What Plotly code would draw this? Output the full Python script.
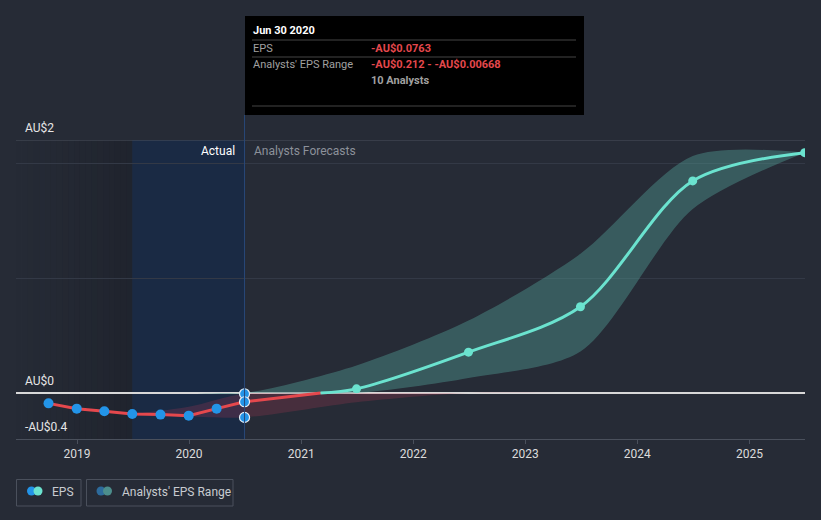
import plotly.graph_objects as go
import pandas as pd

# ---------------- data ----------------
eps_dates = ["2018-09-30", "2018-12-31", "2019-03-31", "2019-06-30",
             "2019-09-30", "2019-12-31", "2020-03-31", "2020-06-30"]
eps_values = [-0.090, -0.136, -0.159, -0.183, -0.188, -0.197, -0.136, -0.0763]

fc_dates = ["2020-06-30", "2021-06-30", "2022-06-30", "2023-06-30",
            "2024-06-30", "2025-06-30"]
fc_values = [-0.0763, 0.036, 0.355, 0.75, 1.844, 2.09]

range_dates = ["2019-06-30", "2019-12-31", "2020-06-30", "2021-06-30",
               "2022-06-30", "2023-06-30", "2024-06-30", "2025-06-30"]
range_low = [-0.183, -0.205, -0.212, -0.08, 0.13, 0.36, 1.6, 2.09]
range_high = [-0.183, -0.12, -0.00668, 0.24, 0.63, 1.21, 2.06, 2.09]

year_ticks = ["2019-01-01", "2020-01-01", "2021-01-01", "2022-01-01",
              "2023-01-01", "2024-01-01", "2025-01-01"]
year_labels = ["2019", "2020", "2021", "2022", "2023", "2024", "2025"]

y_labels = ["AU$2", "AU$0", "-AU$0.4"]
y_label_vals = [2.2, 0, -0.4]

tooltip_date = "Jun 30 2020"
tooltip_eps = "-AU$0.0763"
tooltip_range = "-AU$0.212 - -AU$0.00668"
tooltip_analysts = "10 Analysts"

# ---------------- styling ----------------
BG = "#262b36"
RED = "#e5484d"
BLUE = "#2394e8"
TEAL = "#6be3cf"
FONT = "Roboto"

W, H = 821, 520
L, R, T, B = 16, 16, 140, 81
PW = W - L - R
PH = H - T - B


def px(xp):
    return (xp - L) / PW


def py(yp):
    return (H - B - yp) / PH


fig = go.Figure()

# range band split by sign (red below zero, teal above)
red_low = [min(v, 0) for v in range_low]
red_high = [min(v, 0) for v in range_high]
teal_low = [max(v, 0) for v in range_low]
teal_high = [max(v, 0) for v in range_high]

fig.add_trace(go.Scatter(x=range_dates, y=red_low, mode="lines",
                         line=dict(width=0, shape="spline", smoothing=0.8),
                         showlegend=False, hoverinfo="skip"))
fig.add_trace(go.Scatter(x=range_dates, y=red_high, mode="lines",
                         line=dict(width=0, shape="spline", smoothing=0.8),
                         fill="tonexty", fillcolor="rgba(190,60,85,0.22)",
                         showlegend=False, hoverinfo="skip"))
fig.add_trace(go.Scatter(x=range_dates, y=teal_low, mode="lines",
                         line=dict(width=0, shape="spline", smoothing=0.8),
                         showlegend=False, hoverinfo="skip"))
fig.add_trace(go.Scatter(x=range_dates, y=teal_high, mode="lines",
                         line=dict(width=0, shape="spline", smoothing=0.8),
                         fill="tonexty", fillcolor="rgba(80,150,145,0.45)",
                         showlegend=False, hoverinfo="skip"))

# forecast line split at the zero crossing
d0 = pd.Timestamp(fc_dates[0])
d1 = pd.Timestamp(fc_dates[1])
t = -fc_values[0] / (fc_values[1] - fc_values[0])
cross = d0 + (d1 - d0) * t

fig.add_trace(go.Scatter(x=[fc_dates[0], cross], y=[fc_values[0], 0],
                         mode="lines", line=dict(color=RED, width=3),
                         showlegend=False, hoverinfo="skip"))
fig.add_trace(go.Scatter(x=[cross] + fc_dates[1:], y=[0] + fc_values[1:],
                         mode="lines",
                         line=dict(color=TEAL, width=3, shape="spline", smoothing=0.9),
                         showlegend=False, hoverinfo="skip"))
fig.add_trace(go.Scatter(x=fc_dates[1:], y=fc_values[1:], mode="markers",
                         marker=dict(color=TEAL, size=9),
                         cliponaxis=True, showlegend=False, hoverinfo="skip"))

# actual EPS
fig.add_trace(go.Scatter(x=eps_dates, y=eps_values, mode="lines",
                         line=dict(color=RED, width=3),
                         showlegend=False, hoverinfo="skip"))
fig.add_trace(go.Scatter(x=eps_dates[:-1], y=eps_values[:-1], mode="markers",
                         marker=dict(color=BLUE, size=10),
                         showlegend=False, hoverinfo="skip"))
i_last = range_dates.index(eps_dates[-1])
fig.add_trace(go.Scatter(x=[eps_dates[-1]] * 3,
                         y=[range_high[i_last], eps_values[-1], range_low[i_last]],
                         mode="markers",
                         marker=dict(color=BLUE, size=10,
                                     line=dict(color="#e8eef5", width=1.2)),
                         cliponaxis=False, showlegend=False, hoverinfo="skip"))

shapes = []
# dark gradient before the last twelve months
ltm_start = pd.Timestamp(eps_dates[3])
x_left = pd.Timestamp("2018-06-16")
steps = 20
for i in range(steps):
    a = x_left + (ltm_start - x_left) * (i / steps)
    b = x_left + (ltm_start - x_left) * ((i + 1) / steps)
    shapes.append(dict(type="rect", xref="x", yref="paper", x0=a, x1=b, y0=0, y1=1,
                       fillcolor="rgba(10,12,18,%.3f)" % (0.22 * ((i + 1) / steps) ** 1.3),
                       line=dict(width=0), layer="below"))
# last twelve months (blue)
shapes.append(dict(type="rect", xref="x", yref="paper", x0=eps_dates[3], x1=eps_dates[-1],
                   y0=0, y1=1, fillcolor="#1a2a44", line=dict(width=0), layer="below"))
# top border line
shapes.append(dict(type="line", xref="paper", yref="y", x0=0, x1=1, y0=2.2, y1=2.2,
                   line=dict(color="#4a505c", width=1), layer="below"))
# vertical hover line
shapes.append(dict(type="line", xref="x", yref="paper", x0=eps_dates[-1], x1=eps_dates[-1],
                   y0=0, y1=py(115), line=dict(color="#284878", width=1)))
# tooltip box
shapes.append(dict(type="rect", xref="paper", yref="paper", x0=px(245), x1=px(584),
                   y0=py(115), y1=py(16), fillcolor="#000000", line=dict(width=0)))
for yl in (40, 57, 106):
    shapes.append(dict(type="line", xref="paper", yref="paper", x0=px(252), x1=px(576),
                       y0=py(yl), y1=py(yl), line=dict(color="#444444", width=1)))
# legend boxes
shapes.append(dict(type="rect", xref="paper", yref="paper", x0=px(16.5), x1=px(81),
                   y0=py(506), y1=py(479.5), line=dict(color="#4a505c", width=1),
                   fillcolor="rgba(0,0,0,0)"))
shapes.append(dict(type="rect", xref="paper", yref="paper", x0=px(86.5), x1=px(233),
                   y0=py(506), y1=py(479.5), line=dict(color="#4a505c", width=1),
                   fillcolor="rgba(0,0,0,0)"))


def circ(cx, cy, r, color):
    return dict(type="circle", xref="paper", yref="paper",
                x0=px(cx - r), x1=px(cx + r), y0=py(cy + r), y1=py(cy - r),
                fillcolor=color, line=dict(width=0))


shapes.append(circ(31.5, 491, 4.5, "#2394e8"))
shapes.append(circ(38, 491, 4.5, TEAL))
shapes.append(circ(101, 491, 4.5, "#2d6b9c"))
shapes.append(circ(107.5, 491, 4.5, "#4c8e8c"))

annotations = []
for lab, v in zip(y_labels, y_label_vals):
    annotations.append(dict(text=lab, xref="paper", yref="y", x=px(22.5), y=v,
                            xanchor="left", yanchor="bottom", yshift=3, showarrow=False,
                            font=dict(family=FONT, size=12, color="#e6e6e6")))
annotations.append(dict(text="Actual", xref="paper", yref="paper", x=px(237), y=py(151),
                        xanchor="right", yanchor="middle", showarrow=False,
                        font=dict(family=FONT, size=12, color="#ffffff")))
annotations.append(dict(text="Analysts Forecasts", xref="paper", yref="paper", x=px(251.5),
                        y=py(151), xanchor="left", yanchor="middle", showarrow=False,
                        font=dict(family=FONT, size=12, color="#8c919a")))
# tooltip text
annotations.append(dict(text="<b>" + tooltip_date + "</b>", xref="paper", yref="paper",
                        x=px(251), y=py(30), xanchor="left", yanchor="middle",
                        showarrow=False, font=dict(family=FONT, size=11, color="#ffffff")))
annotations.append(dict(text="EPS", xref="paper", yref="paper", x=px(251), y=py(48),
                        xanchor="left", yanchor="middle", showarrow=False,
                        font=dict(family=FONT, size=11, color="#a0a0a0")))
annotations.append(dict(text="<b>" + tooltip_eps + "</b>", xref="paper", yref="paper",
                        x=px(369), y=py(48), xanchor="left", yanchor="middle",
                        showarrow=False, font=dict(family=FONT, size=11, color="#e5484d")))
annotations.append(dict(text="Analysts' EPS Range", xref="paper", yref="paper", x=px(251),
                        y=py(65), xanchor="left", yanchor="middle", showarrow=False,
                        font=dict(family=FONT, size=11, color="#a0a0a0")))
annotations.append(dict(text="<b>" + tooltip_range + "</b>", xref="paper", yref="paper",
                        x=px(369), y=py(65), xanchor="left", yanchor="middle",
                        showarrow=False, font=dict(family=FONT, size=11, color="#e5484d")))
annotations.append(dict(text="<b>" + tooltip_analysts + "</b>", xref="paper", yref="paper",
                        x=px(369), y=py(81), xanchor="left", yanchor="middle",
                        showarrow=False, font=dict(family=FONT, size=11, color="#a0a0a0")))
# legend text
annotations.append(dict(text="EPS", xref="paper", yref="paper", x=px(49.5), y=py(492),
                        xanchor="left", yanchor="middle", showarrow=False,
                        font=dict(family=FONT, size=12, color="#c8cbd0")))
annotations.append(dict(text="Analysts' EPS Range", xref="paper", yref="paper", x=px(119.5),
                        y=py(492), xanchor="left", yanchor="middle", showarrow=False,
                        font=dict(family=FONT, size=12, color="#c8cbd0")))

fig.update_layout(
    width=W, height=H,
    margin=dict(l=L, r=R, t=T, b=B),
    paper_bgcolor=BG, plot_bgcolor=BG,
    showlegend=False, hovermode=False,
    shapes=shapes, annotations=annotations,
    font=dict(family=FONT, color="#d8d8d8"),
    xaxis=dict(type="date", range=["2018-06-16", "2025-07-01"],
               tickvals=year_ticks, ticktext=year_labels,
               showgrid=False, zeroline=False,
               showline=True, linecolor="#4a505c", linewidth=1,
               ticks="outside", ticklen=4, tickcolor="#4a505c",
               tickfont=dict(family=FONT, size=12, color="#dcdcdc"),
               fixedrange=True),
    yaxis=dict(range=[-0.4, 2.2], tickvals=[0, 1, 2], showticklabels=False,
               showgrid=True, gridcolor="#333946", gridwidth=1,
               zeroline=True, zerolinecolor="#d8d8d8", zerolinewidth=1.5,
               showline=False, fixedrange=True),
)

fig.write_html("out.html", config={"displayModeBar": False},
               post_script="document.body.style.margin='0';document.body.style.overflow='hidden';document.body.style.background='" + BG + "';")
